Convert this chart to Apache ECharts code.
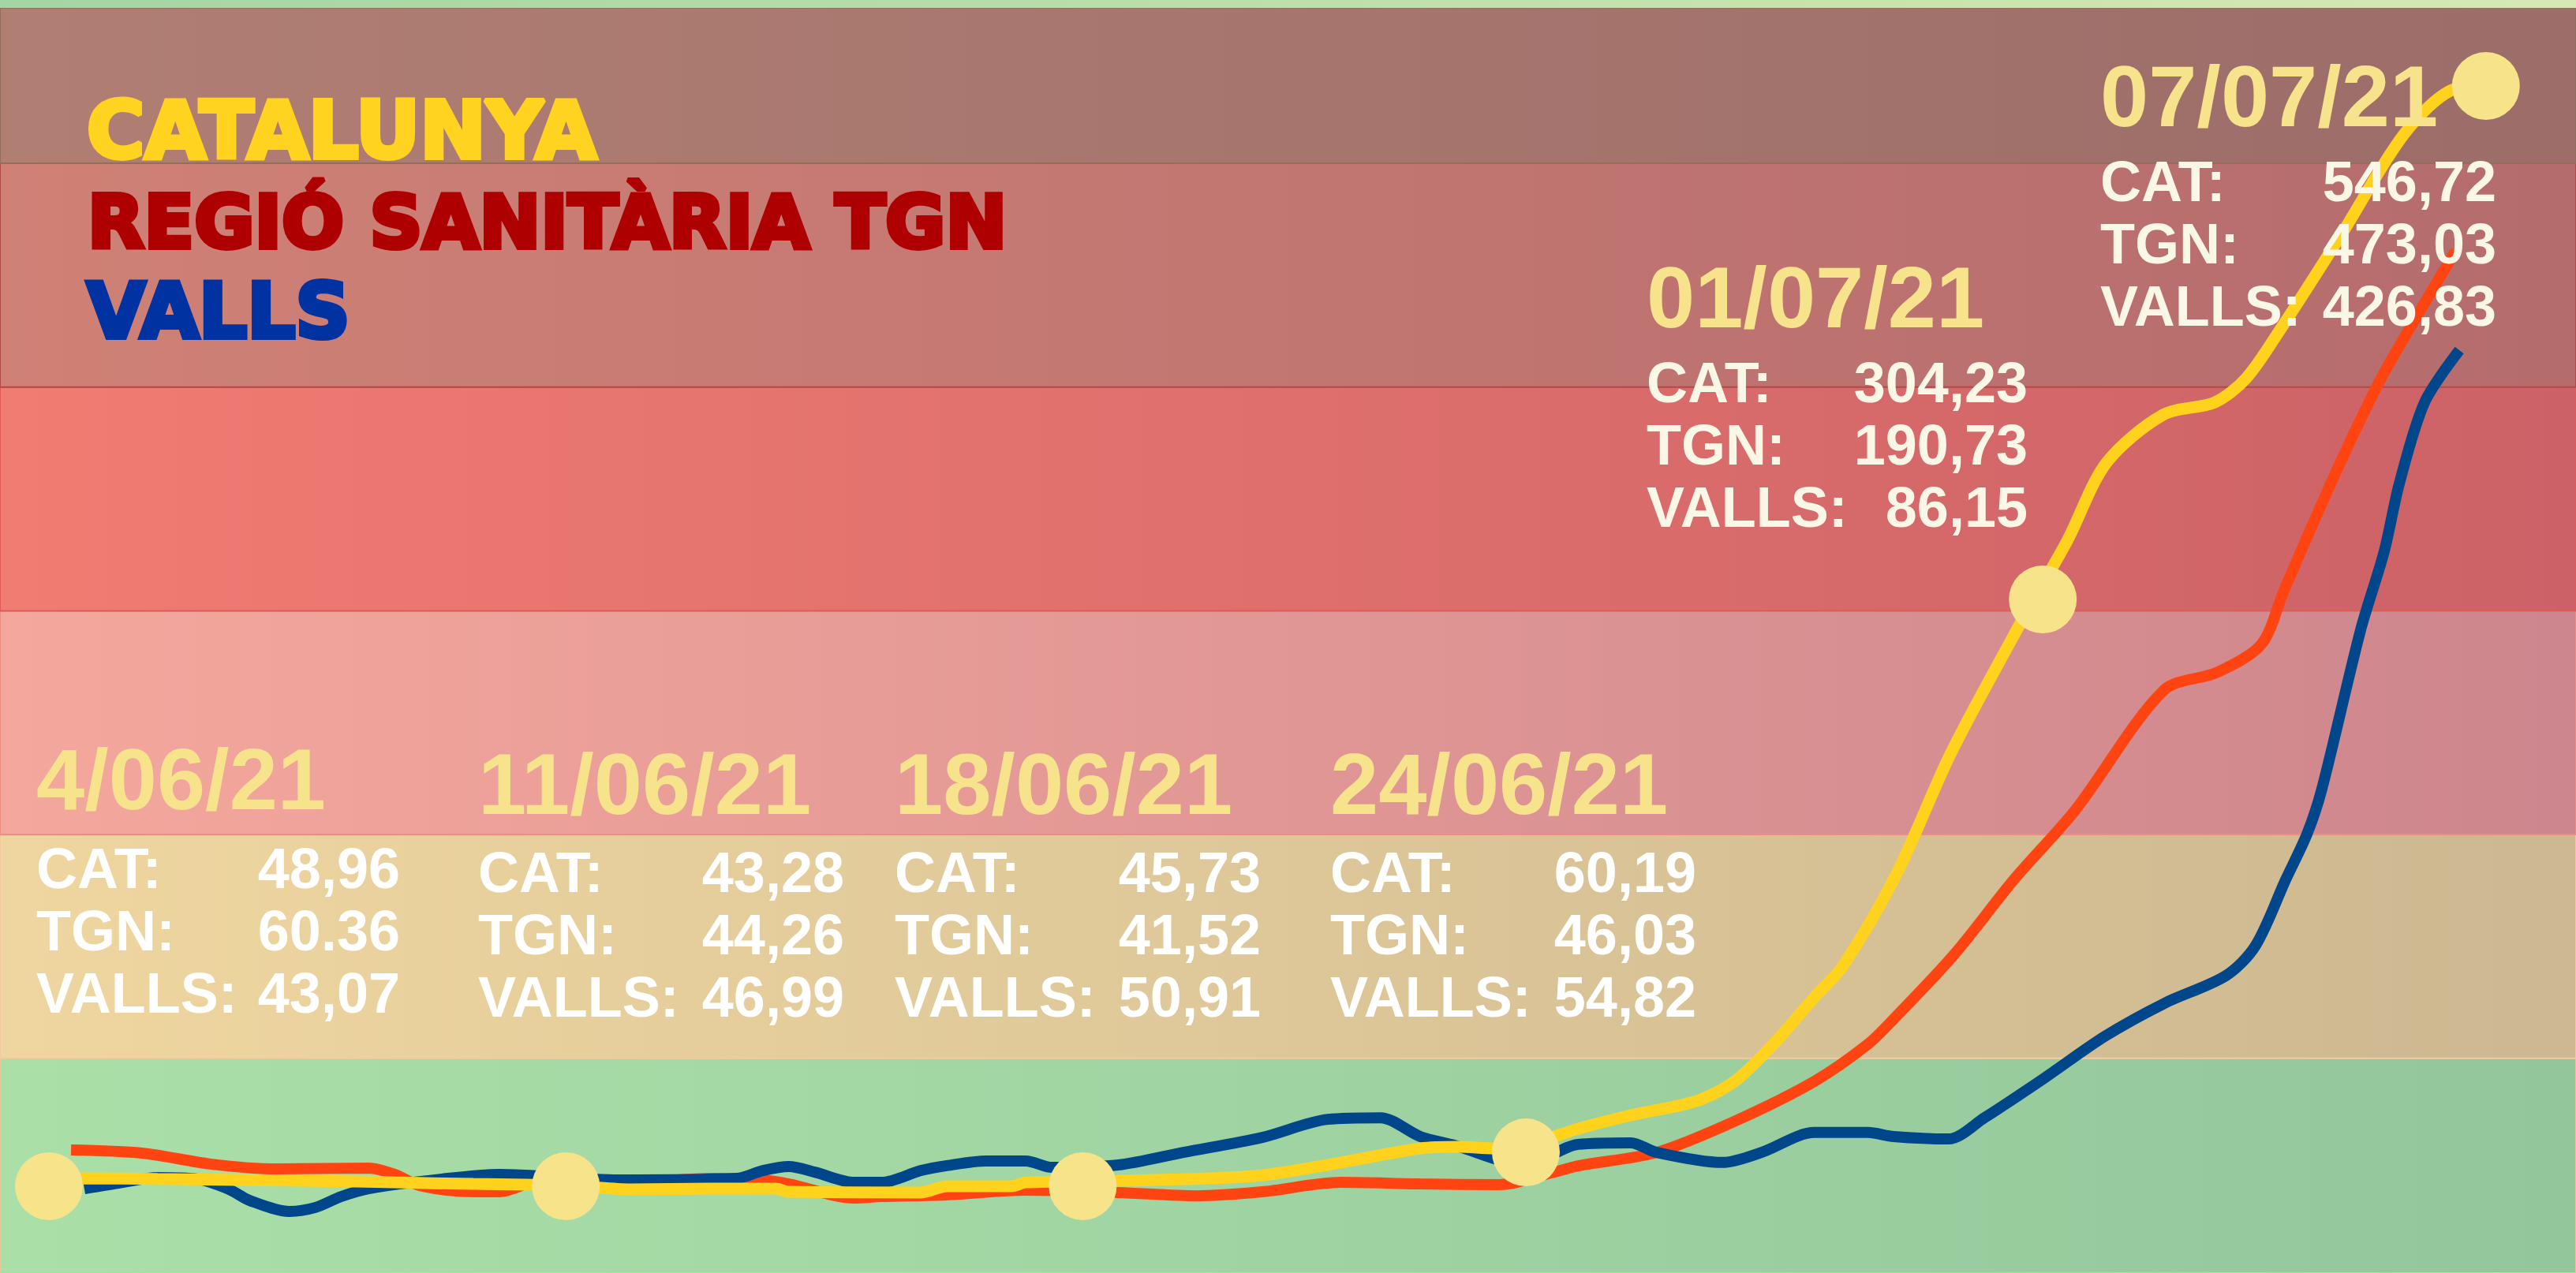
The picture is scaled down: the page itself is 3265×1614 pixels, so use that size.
<!DOCTYPE html>
<html>
<head>
<meta charset="utf-8">
<script src="https://cdn.jsdelivr.net/npm/echarts/dist/echarts.min.js"></script>
<style>
  html, body { margin: 0; padding: 0; }
  #chart { width: 3265px; height: 1614px; }
</style>
</head>
<body>
<div id="chart"></div>
<script>
// incidencia: x = dies des del 4/06/21, y = valor llegit del gràfic
const catLine = [
  [0, 44.2], [0.46, 46.3], [1.47, 46.0], [3.61, 45.2], [4.68, 44.5], [5.75, 43.8], [6.46, 43.5],
  [7.17, 42.8], [7.88, 41.4], [8.95, 41.7], [9.84, 41.7], [10.02, 40.3], [11.81, 40.0], [12.16, 42.8],
  [13.04, 42.8], [13.23, 44.5], [14.48, 45.2], [15.72, 46.3], [16.43, 47.7], [17.5, 53.4], [18.57, 59.7],
  [19.1, 60.4], [19.56, 59.7], [20.17, 62.9], [20.71, 68.5], [21.42, 74.5], [22.31, 80.9], [22.84, 90.0],
  [23.38, 107.3], [23.91, 127.4], [24.29, 141.1], [25.02, 182.4], [25.75, 236.0], [26.61, 289.2],
  [26.88, 305.1], [27.34, 331.9], [27.86, 366.1], [28.63, 387.6], [29.33, 393.2], [29.75, 403.8],
  [30.18, 423.9], [31.05, 468.6], [31.91, 513.8], [32.6, 533.5], [33.06, 534.6]
];
const tgnLine = [
  [0.3, 59.0], [1.26, 57.6], [2.19, 52.7], [3.08, 50.5], [4.33, 50.9], [4.68, 48.1], [5.03, 43.0],
  [5.75, 40.3], [6.1, 40.3], [6.71, 46.0], [8.24, 45.2], [8.95, 46.3], [9.67, 45.6], [10.02, 43.8],
  [10.91, 37.5], [11.27, 38.2], [12.16, 38.9], [13.23, 41.0], [14.48, 40.0], [15.54, 38.5], [16.43, 40.3],
  [17.5, 44.5], [18.57, 43.8], [19.64, 43.5], [20.35, 48.8], [20.71, 51.9], [21.77, 57.9], [22.84, 72.0],
  [23.91, 89.7], [24.63, 106.2], [24.98, 117.5], [25.8, 146.4], [26.61, 179.9], [27.44, 210.9],
  [28.64, 264.5], [29.37, 272.6], [29.96, 285.0], [30.26, 308.6], [30.7, 342.1], [31.15, 374.9],
  [31.59, 404.5], [32.04, 430.3], [32.59, 460.9]
];
const vallsLine = [
  [0.48, 41.7], [0.94, 44.2], [1.47, 46.7], [2.01, 46.0], [2.44, 41.4], [2.72, 36.4], [3.26, 31.5],
  [3.61, 33.3], [3.96, 38.2], [4.33, 41.7], [5.32, 46.0], [6.1, 48.1], [6.63, 47.4], [7.7, 45.6],
  [9.31, 46.3], [9.67, 49.8], [10.02, 51.6], [10.37, 49.1], [10.91, 44.5], [11.27, 44.5], [11.81, 49.8],
  [12.16, 52.0], [12.69, 54.1], [13.23, 54.1], [13.58, 51.2], [14.48, 52.3], [15.36, 57.9], [16.43, 64.6],
  [17.32, 72.7], [18.03, 73.4], [18.57, 65.0], [19.03, 61.1], [19.99, 52.3], [20.71, 61.5], [21.42, 62.2],
  [21.77, 57.9], [22.66, 53.4], [23.19, 57.9], [23.91, 66.8], [24.63, 66.8], [24.98, 65.0], [25.72, 63.9],
  [26.21, 73.4], [27.02, 91.1], [27.84, 109.8], [28.65, 124.6], [29.48, 136.9], [29.88, 150.3],
  [30.29, 179.9], [30.58, 200.4], [30.78, 220.5], [31.3, 291.0], [31.62, 326.2], [31.83, 357.2],
  [32.17, 393.2], [32.64, 416.5]
];

// punts destacats (dies i valor on hi ha el cercle)
const markerDays = [0, 7, 14, 20, 27, 33];
const markerVals = [42.8, 42.8, 42.8, 57.9, 305.1, 534.6];

// textos de cada data
const annDates = ['4/06/21', '11/06/21', '18/06/21', '24/06/21', '01/07/21', '07/07/21'];
const annCat = ['48,96', '43,28', '45,73', '60,19', '304,23', '546,72'];
const annTgn = ['60.36', '44,26', '41,52', '46,03', '190,73', '473,03'];
const annValls = ['43,07', '46,99', '50,91', '54,82', '86,15', '426,83'];

// franges de risc
const bandEdges = [4, 100, 200, 300, 400, 500, 569.5, 573];

// --- layout (pixels) ---
const blockLeft = [46, 606, 1134, 1686, 2087, 2662];
const blockRight = [507, 1070, 1598, 2150, 2570, 3164];
const dateMidY = [996, 1002, 1002, 1002, 385, 130];
const rowMidY = [1106, 1111, 1111, 1111, 490, 235];
const rowStep = 79;

const bandColors = [
  ['#abdfa8', '#93c79b', '#e2cc94'],   // verd
  ['#efd6a0', '#ccb891', '#f2c9a0'],   // groc
  ['#f4a79c', '#cd868d', '#ef8c80'],   // rosa
  ['#f07c72', '#cc6267', '#e05b57'],   // vermell
  ['#cf8176', '#b56c6d', '#b24a4a'],   // granat
  ['#b07e73', '#9c6d69', '#8f7058'],   // marró
  ['#a2d6a4', '#d6e9b2', '#a2d6a4']    // franja de dalt
];

function grad(c1, c2) {
  return { type: 'linear', x: 0, y: 0, x2: 1, y2: 0, colorStops: [{ offset: 0, color: c1 }, { offset: 1, color: c2 }] };
}

let areas = [];
for (let i = 0; i < bandEdges.length - 1; i++) {
  areas.push([
    { yAxis: bandEdges[i], itemStyle: { color: grad(bandColors[i][0], bandColors[i][1]), borderColor: bandColors[i][2], borderWidth: i < 6 ? 2 : 0 } },
    { yAxis: bandEdges[i + 1] }
  ]);
}

function txt(x, y, s, font, color, align, extra) {
  return {
    type: 'text', x: x, y: y, z: 100, silent: true,
    style: Object.assign({
      text: s, font: font, fill: color,
      align: align, verticalAlign: 'middle',
      textAlign: align, textVerticalAlign: 'middle'
    }, extra || {})
  };
}

let texts = [];
// títol (lletra gruixuda: el traç del mateix color l'engreixa)
texts.push(txt(110, 174, 'CATALUNYA', 'bold 100px "DejaVu Sans"', '#ffd320', 'left', { stroke: '#ffd320', lineWidth: 6 }));
texts.push(txt(111, 290, 'REGIÓ SANITÀRIA TGN', 'bold 93px "DejaVu Sans"', '#ae0000', 'left', { stroke: '#ae0000', lineWidth: 6 }));
texts.push(txt(110, 403, 'VALLS', 'bold 96px "DejaVu Sans"', '#0033a1', 'left', { stroke: '#0033a1', lineWidth: 6 }));

const dateFont = 'bold 110px "Liberation Sans"';
const valFont = 'bold 72px "Liberation Sans"';
annDates.forEach((d, i) => {
  const valColor = i >= 4 ? '#fbf7e6' : '#ffffff';
  texts.push(txt(blockLeft[i], dateMidY[i], d, dateFont, '#f7e38c', 'left'));
  const labels = ['CAT:', 'TGN:', 'VALLS:'];
  const vals = [annCat[i], annTgn[i], annValls[i]];
  labels.forEach((l, j) => {
    const y = rowMidY[i] + j * rowStep;
    texts.push(txt(blockLeft[i], y, l, valFont, valColor, 'left'));
    texts.push(txt(blockRight[i], y, vals[j], valFont, valColor, 'right'));
  });
});

const myChart = echarts.init(document.getElementById('chart'));
const option = {
  animation: false,
  backgroundColor: '#a8d8a6',
  grid: { left: 0, right: 0, top: 0, bottom: 0 },
  xAxis: { type: 'value', min: -0.662, max: 34.22, show: false },
  yAxis: { type: 'value', min: 4, max: 573, show: false },
  series: [
    {
      name: 'TGN', type: 'line', data: tgnLine, smooth: 0.3, showSymbol: false, z: 2,
      lineStyle: { color: '#ff4412', width: 14 },
      markArea: { silent: true, data: areas }
    },
    {
      name: 'VALLS', type: 'line', data: vallsLine, smooth: 0.3, showSymbol: false, z: 3,
      lineStyle: { color: '#00468a', width: 14 }
    },
    {
      name: 'CAT', type: 'line', data: catLine, smooth: 0.3, showSymbol: false, z: 4,
      lineStyle: { color: '#ffd21e', width: 15 }
    },
    {
      name: 'dates', type: 'scatter', z: 5, symbol: 'circle', symbolSize: 86,
      itemStyle: { color: '#f7e38a', opacity: 1 },
      data: markerDays.map((d, i) => [d, markerVals[i]])
    }
  ],
  graphic: texts
};
myChart.setOption(option);
</script>
</body>
</html>
